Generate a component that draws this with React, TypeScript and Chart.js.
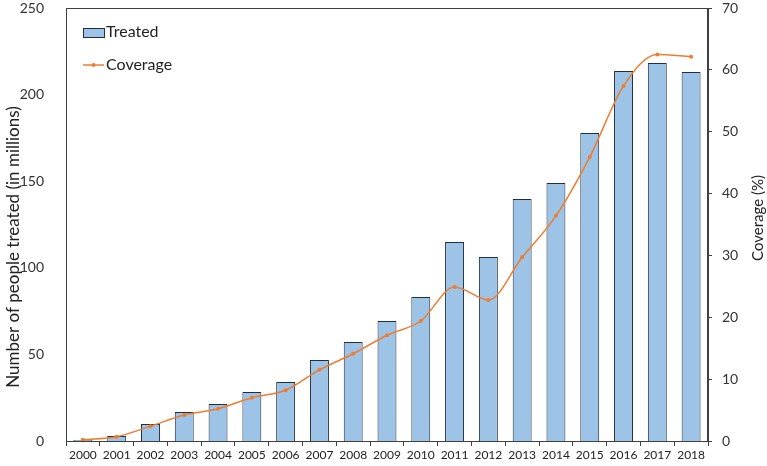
import React, { useEffect, useRef } from "react";
import { Chart, registerables } from "chart.js";

Chart.register(...registerables);

const years = ["2000","2001","2002","2003","2004","2005","2006","2007","2008","2009","2010","2011","2012","2013","2014","2015","2016","2017","2018"];
const treated = [0.6, 2.9, 9.8, 16.7, 21.4, 28.3, 34.1, 46.8, 57.2, 69.3, 83.1, 114.9, 106.2, 139.7, 149.0, 177.8, 213.6, 218.2, 213.0];
const coverage = [0.2, 0.7, 2.4, 4.2, 5.2, 7.0, 8.2, 11.5, 14.1, 17.1, 19.4, 24.9, 22.8, 29.7, 36.4, 45.9, 57.4, 62.5, 62.1];

const leftTitle = "Number of people treated (in millions)";
const rightTitle = "Coverage (%)";
const legendBar = "Treated";
const legendLine = "Coverage";

const FONT = "Lato, 'Noto Sans', sans-serif";
const AXIS = "#404040";
const TEXT = "#222";
const BAR_FILL = "#9DC3E6";
const BAR_EDGE = "#1F2F40";
const LINE = "#ED7D31";

const framePlugin = {
  id: "frame",
  afterDatasetsDraw(chart: any) {
    const { ctx, chartArea: a } = chart;
    ctx.save();
    ctx.strokeStyle = AXIS;
    ctx.lineWidth = 1;
    ctx.strokeRect(Math.round(a.left) + 0.5, Math.round(a.top) + 0.5, Math.round(a.right - a.left) - 1, Math.round(a.bottom - a.top));
    // legend
    const x0 = a.left + 17;
    const y0 = a.top + 24;
    ctx.fillStyle = BAR_FILL;
    ctx.strokeStyle = BAR_EDGE;
    ctx.fillRect(x0, y0 - 4, 21, 9);
    ctx.strokeRect(x0 + 0.5, y0 - 4 + 0.5, 21, 9);
    ctx.fillStyle = TEXT;
    ctx.font = "16px " + FONT;
    ctx.textBaseline = "middle";
    ctx.textAlign = "left";
    ctx.fillText(legendBar, x0 + 23, y0);
    const y1 = y0 + 33;
    ctx.strokeStyle = LINE;
    ctx.lineWidth = 1.5;
    ctx.beginPath();
    ctx.moveTo(x0, y1);
    ctx.lineTo(x0 + 21, y1);
    ctx.stroke();
    ctx.fillStyle = LINE;
    ctx.beginPath();
    ctx.arc(x0 + 10.5, y1, 2, 0, Math.PI * 2);
    ctx.fill();
    ctx.fillStyle = TEXT;
    ctx.fillText(legendLine, x0 + 23, y1);

    // axis titles
    ctx.textAlign = "center";
    ctx.textBaseline = "middle";
    ctx.font = "17px " + FONT;
    ctx.save();
    ctx.translate(14, 247);
    ctx.rotate(-Math.PI / 2);
    ctx.fillText(leftTitle, 0, 0);
    ctx.restore();
    ctx.font = "15px " + FONT;
    ctx.save();
    ctx.translate(758, 218);
    ctx.rotate(-Math.PI / 2);
    ctx.fillText(rightTitle, 0, 0);
    ctx.restore();
    ctx.restore();
  },
};

export default function App() {
  const ref = useRef<HTMLCanvasElement>(null);
  useEffect(() => {
    if (!ref.current) return;
    const chart = new Chart(ref.current, {
      type: "bar",
      data: {
        labels: years,
        datasets: [
          {
            type: "line",
            label: "Coverage",
            data: coverage,
            yAxisID: "y1",
            borderColor: LINE,
            backgroundColor: LINE,
            borderWidth: 1.5,
            pointRadius: 2,
            pointBorderWidth: 0,
            cubicInterpolationMode: "monotone",
            order: 0,
          } as any,
          {
            type: "bar",
            label: "Treated",
            data: treated,
            yAxisID: "y",
            backgroundColor: BAR_FILL,
            borderColor: BAR_EDGE,
            borderWidth: 1,
            categoryPercentage: 1,
            barPercentage: 0.56,
            order: 1,
          },
        ],
      },
      plugins: [framePlugin],
      options: {
        animation: false,
        responsive: false,
        layout: { padding: { top: 8, left: 0, right: 0, bottom: 0 } },
        plugins: { legend: { display: false }, tooltip: { enabled: false } },
        scales: {
          x: {
            offset: true,
            grid: { display: true, drawOnChartArea: false, drawTicks: true, tickLength: 5, color: AXIS, offset: true },
            border: { display: true, color: AXIS },
            ticks: { color: TEXT, font: { family: FONT, size: 12 }, padding: 2, maxRotation: 0, autoSkip: false },
            afterFit: (s: any) => { s.height = 25; s.paddingLeft = 0; s.paddingRight = 0; },
          },
          y: {
            position: "left",
            min: 0,
            max: 250,
            ticks: { stepSize: 50, color: "#333", font: { family: FONT, size: 14 }, padding: 14 },
            grid: { display: false },
            border: { display: true, color: AXIS },
            afterFit: (s: any) => { s.width = 66; s.paddingTop = 0; s.paddingBottom = 0; },
          },
          y1: {
            position: "right",
            min: 0,
            max: 70,
            ticks: { stepSize: 10, color: "#333", font: { family: FONT, size: 14 }, padding: 10 },
            grid: { display: true, drawOnChartArea: false, drawTicks: true, tickLength: 4, color: AXIS },
            border: { display: true, color: AXIS },
            afterFit: (s: any) => { s.width = 59; s.paddingTop = 0; s.paddingBottom = 0; },
          },
        },
      },
    });
    return () => chart.destroy();
  }, []);
  return (
    <div style={{ position: "fixed", left: 0, top: 0, width: 767, height: 466, background: "#fff" }}>
      <canvas ref={ref} width={767} height={466} style={{ width: 767, height: 466 }} />
    </div>
  );
}
